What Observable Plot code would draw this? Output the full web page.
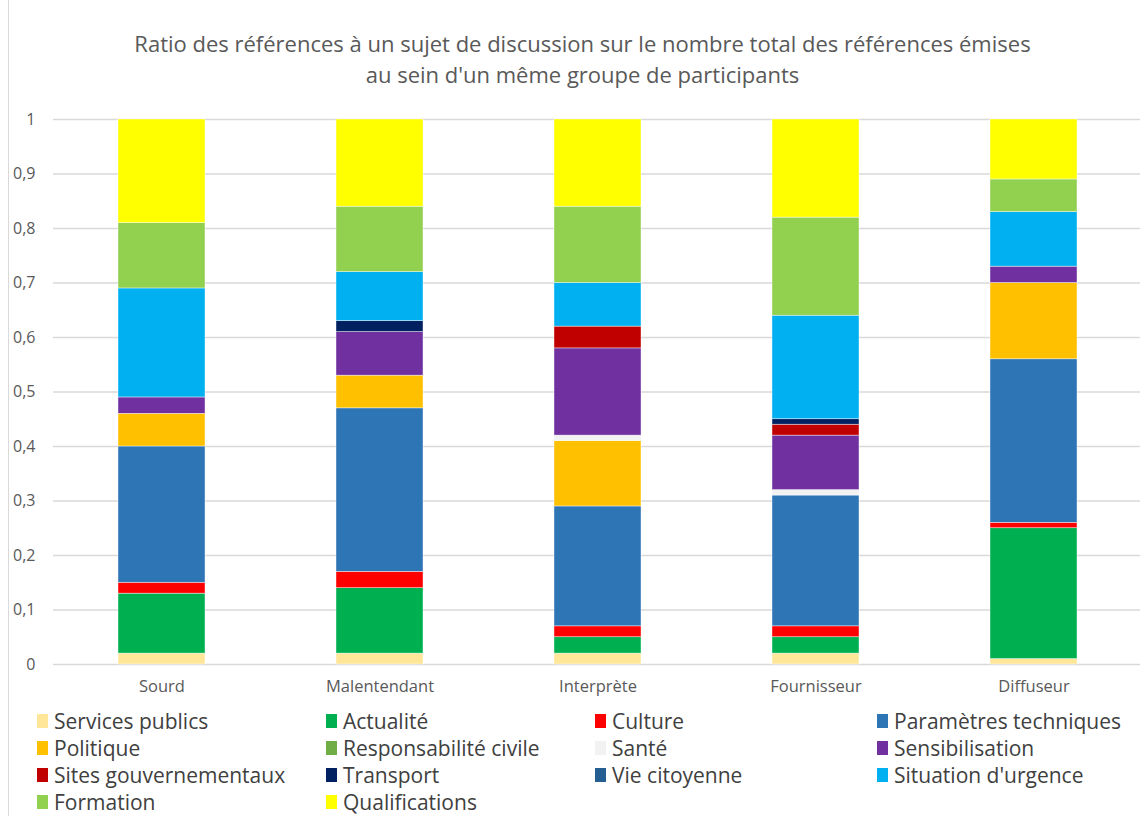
<!DOCTYPE html>
<html>
<head>
<meta charset="utf-8">
<script src="https://cdn.jsdelivr.net/npm/d3@7"></script>
<script src="https://cdn.jsdelivr.net/npm/@observablehq/plot@0.6"></script>
<style>
  html, body { margin: 0; padding: 0; background: #fff; width: 1140px; height: 816px; overflow: hidden; }
  body { font-family: "Open Sans", sans-serif; position: relative; }
  #frame { position: absolute; left: 8px; top: 0; width: 0; height: 816px; border-left: 1px solid #d9d9d9; z-index: 5; }
  #title { position: absolute; top: 28px; left: 0; width: 1165px; text-align: center; color: #595959; font-size: 22px; line-height: 31px; }
  #chart { position: absolute; top: 100px; left: 0; }
  #legend { position: absolute; top: 707px; left: 37px; display: grid; grid-template-columns: 289px 269px 282px 250px; grid-auto-rows: 27px; font-size: 21px; color: #404040; }
  #legend .item { display: flex; align-items: center; white-space: nowrap; }
  #legend .sw { width: 11px; height: 14px; margin-right: 6px; flex: none; }
</style>
</head>
<body>
<div id="title">Ratio des références à un sujet de discussion sur le nombre total des références émises<br>au sein d'un même groupe de participants</div>
<div id="chart"></div>
<div id="legend"></div>
<div id="frame"></div>
<script>
const groups = ["Sourd", "Malentendant", "Interprète", "Fournisseur", "Diffuseur"];
const topics = ["Services publics", "Actualité", "Culture", "Paramètres techniques", "Politique", "Responsabilité civile", "Santé", "Sensibilisation", "Sites gouvernementaux", "Transport", "Vie citoyenne", "Situation d'urgence", "Formation", "Qualifications"];
const colors = ["#FFE699", "#00B050", "#FF0000", "#2E75B6", "#FFC000", "#70AD47", "#F2F2F2", "#7030A0", "#C00000", "#002060", "#255E91", "#00B0F0", "#92D050", "#FFFF00"];

// values per topic, in the order of groups
const servicesPublics      = [0.02, 0.02, 0.02, 0.02, 0.01];
const actualite            = [0.11, 0.12, 0.03, 0.03, 0.24];
const culture              = [0.02, 0.03, 0.02, 0.02, 0.01];
const parametresTechniques = [0.25, 0.30, 0.22, 0.24, 0.30];
const politique            = [0.06, 0.06, 0.12, 0.00, 0.14];
const responsabiliteCivile = [0.00, 0.00, 0.00, 0.00, 0.00];
const sante                = [0.00, 0.00, 0.01, 0.01, 0.00];
const sensibilisation      = [0.03, 0.08, 0.16, 0.10, 0.03];
const sitesGouvernementaux = [0.00, 0.00, 0.04, 0.02, 0.00];
const transport            = [0.00, 0.02, 0.00, 0.01, 0.00];
const vieCitoyenne         = [0.00, 0.00, 0.00, 0.00, 0.00];
const situationUrgence     = [0.20, 0.09, 0.08, 0.19, 0.10];
const formation            = [0.12, 0.12, 0.14, 0.18, 0.06];
const qualifications       = [0.19, 0.16, 0.16, 0.18, 0.11];

const yTicks = [0, 0.1, 0.2, 0.3, 0.4, 0.5, 0.6, 0.7, 0.8, 0.9, 1];

const series = [servicesPublics, actualite, culture, parametresTechniques, politique, responsabiliteCivile, sante, sensibilisation, sitesGouvernementaux, transport, vieCitoyenne, situationUrgence, formation, qualifications];

const rows = [];
topics.forEach((t, i) => {
  groups.forEach((g, j) => {
    if (series[i][j] > 0) rows.push({group: g, topic: t, value: series[i][j]});
  });
});

const fmt = d => d === 0 ? "0" : d === 1 ? "1" : d.toFixed(1).replace(".", ",");

const plot = Plot.plot({
  width: 1140,
  height: 600,
  marginTop: 19,
  marginBottom: 36,
  marginLeft: 53,
  marginRight: 0,
  style: { fontFamily: '"Open Sans", sans-serif', fontSize: "15px", color: "#595959", background: "transparent" },
  x: { domain: groups, range: [53, 1143], paddingInner: 0.6, paddingOuter: 0.3, label: null, tickSize: 0, tickPadding: 16 },
  y: { domain: [0, 1], ticks: yTicks, tickFormat: fmt, label: null, tickSize: 0, tickPadding: 18 },
  color: { domain: topics, range: colors },
  marks: [
    Plot.ruleY(yTicks, { stroke: "#d9d9d9", strokeWidth: 1.3 }),
    Plot.barY(rows, { x: "group", y: "value", fill: "topic", stroke: "white", strokeWidth: 0.6, strokeOpacity: 0.7 }),
    Plot.axisX({ tickSize: 0, tickPadding: 16, fill: "#595959", fontSize: 16.5 }),
    Plot.axisY({ ticks: yTicks, tickFormat: fmt, tickSize: 0, tickPadding: 18, fill: "#595959", fontSize: 16 })
  ]
});
document.getElementById("chart").appendChild(plot);

const legend = document.getElementById("legend");
topics.forEach((t, i) => {
  const item = document.createElement("div");
  item.className = "item";
  const sw = document.createElement("span");
  sw.className = "sw";
  sw.style.background = colors[i];
  item.appendChild(sw);
  item.appendChild(document.createTextNode(t));
  legend.appendChild(item);
});
</script>
</body>
</html>
